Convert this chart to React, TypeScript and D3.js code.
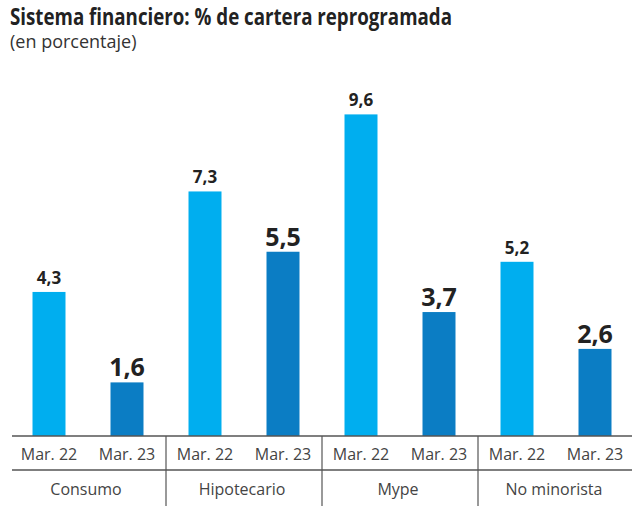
import React from "react";
import * as d3 from "d3";

const categories = ["Consumo", "Hipotecario", "Mype", "No minorista"];
const periods = ["Mar. 22", "Mar. 23"];
const valuesMar22 = [4.3, 7.3, 9.6, 5.2];
const valuesMar23 = [1.6, 5.5, 3.7, 2.6];
const title = "Sistema financiero: % de cartera reprogramada";
const subtitle = "(en porcentaje)";

const W = 640;
const H = 508;
const baseY = 436;
const lineY2 = 470;

export default function App() {
  const gx = d3.scaleBand<string>().domain(categories).range([10, 634]).padding(0);
  const px = d3
    .scaleBand<string>()
    .domain(periods)
    .range([0, gx.bandwidth()])
    .paddingInner(0.577)
    .paddingOuter(0.2885);
  const y = d3.scaleLinear().domain([0, 10]).range([baseY, baseY - 335]);
  const colors = ["#00aeef", "#0b7dc4"];
  const series = [valuesMar22, valuesMar23];
  const font = "'Open Sans', sans-serif";

  return (
    <svg width={W} height={H} style={{ position: "absolute", left: 0, top: 0 }}>
      <rect width={W} height={H} fill="#fff" />
      <text x={10} y={25} fontFamily={font} fontWeight={700} fontSize={23} fill="#222" textLength={442} lengthAdjust="spacingAndGlyphs">
        {title}
      </text>
      <text x={10} y={48} fontFamily={font} fontSize={18} fill="#333">
        {subtitle}
      </text>
      {categories.map((c, i) => (
        <g key={c} transform={`translate(${gx(c)},0)`}>
          {periods.map((p, j) => {
            const v = series[j][i];
            const x0 = px(p)!;
            const bw = px.bandwidth();
            return (
              <g key={p}>
                <rect x={x0} y={y(v)} width={bw} height={baseY - y(v)} fill={colors[j]} />
                <text
                  x={x0 + bw / 2}
                  y={y(v) - (j === 0 ? 8 : 6)}
                  textAnchor="middle"
                  fontFamily={font}
                  fontWeight={700}
                  fontSize={j === 0 ? 17 : 25}
                  fill="#222"
                >
                  {v.toFixed(1).replace(".", ",")}
                </text>
                <text x={x0 + bw / 2} y={460} textAnchor="middle" fontFamily={font} fontSize={16} fill="#444">
                  {p}
                </text>
              </g>
            );
          })}
          <text x={gx.bandwidth() / 2 - 2} y={495} textAnchor="middle" fontFamily={font} fontSize={16} fill="#444">
            {c}
          </text>
        </g>
      ))}
      <line x1={12} x2={632} y1={baseY} y2={baseY} stroke="#555" strokeWidth={1.5} />
      <line x1={12} x2={632} y1={lineY2} y2={lineY2} stroke="#555" strokeWidth={1.5} />
      {categories.slice(1).map((c) => (
        <line key={c} x1={gx(c)!} x2={gx(c)!} y1={baseY} y2={506} stroke="#555" strokeWidth={1.2} />
      ))}
    </svg>
  );
}
